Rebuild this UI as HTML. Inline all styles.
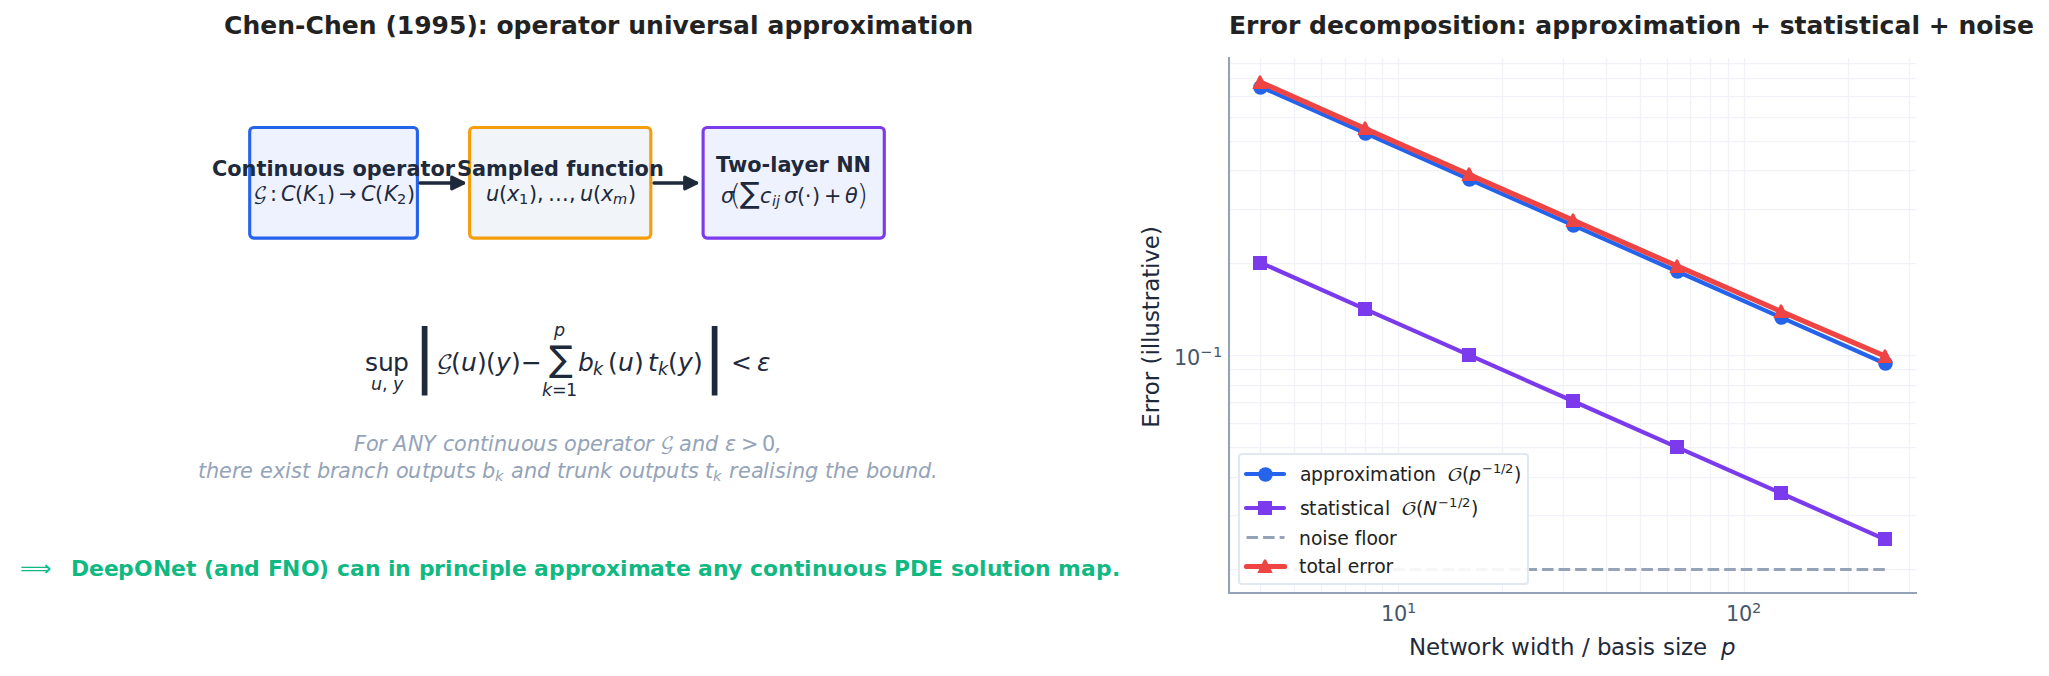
<!DOCTYPE html>
<html lang="en">
<head>
<meta charset="utf-8">
<title>Chen-Chen (1995): operator universal approximation</title>
<style>html,body{margin:0;padding:0;background:#fff}body{width:2049px;height:676px;overflow:hidden}</style>
</head>
<body>
<svg width="2049" height="676" viewBox="0 0 2049 676" style="display:block;font-family:'DejaVu Sans','Liberation Sans',sans-serif">
<defs><clipPath id="axclip"><rect x="1229.25" y="57.87" width="687" height="535.5"/></clipPath></defs>
<rect width="2049" height="676" fill="#fff"/>
<rect x="249.7" y="127.5" width="167.7" height="110.6" rx="4" fill="#eef2ff" stroke="#2563eb" stroke-width="3.12"/>
<rect x="469.6" y="127.5" width="181.2" height="110.6" rx="4" fill="#f1f5f9" stroke="#f59e0b" stroke-width="3.12"/>
<rect x="703.1" y="127.5" width="181.2" height="110.6" rx="4" fill="#eef2ff" stroke="#7c3aed" stroke-width="3.12"/>
<path d="M420 183H463.47" stroke="#1e293b" stroke-width="3.33" stroke-linecap="round" fill="none"/>
<path d="M451.81 177.17L463.47 183L451.81 188.83Z" fill="#1e293b" stroke="#1e293b" stroke-width="3.33" stroke-linejoin="round"/>
<path d="M654 183H696.47" stroke="#1e293b" stroke-width="3.33" stroke-linecap="round" fill="none"/>
<path d="M684.81 177.17L696.47 183L684.81 188.83Z" fill="#1e293b" stroke="#1e293b" stroke-width="3.33" stroke-linejoin="round"/>
<path d="M1260.5 593V58M1294.5 593V58M1321.5 593V58M1345.5 593V58M1365.5 593V58M1382.5 593V58M1398.5 593V58M1502.5 593V58M1563.5 593V58M1606.5 593V58M1640.5 593V58M1667.5 593V58M1690.5 593V58M1710.5 593V58M1728.5 593V58M1744.5 593V58M1848.5 593V58M1909.5 593V58M1229 569.5H1916M1229 515.5H1916M1229 477.5H1916M1229 447.5H1916M1229 423.5H1916M1229 402.5H1916M1229 385.5H1916M1229 369.5H1916M1229 355.5H1916M1229 263.5H1916M1229 209.5H1916M1229 170.5H1916M1229 141.5H1916M1229 117.5H1916M1229 96.5H1916M1229 78.5H1916M1229 63.5H1916" stroke="#e2e5f0" stroke-opacity="0.5" stroke-width="1.25" fill="none"/>
<g clip-path="url(#axclip)">
<path d="M1260.48 86.82L1364.57 132.94L1468.66 179.05L1572.75 225.16L1676.84 271.27L1780.93 317.38L1885.02 363.49" stroke="#2563eb" stroke-width="4.17" fill="none" stroke-linejoin="round" stroke-linecap="round"/>
<circle cx="1260.5" cy="87.5" r="7.28" fill="#2563eb"/>
<circle cx="1365.5" cy="133.5" r="7.28" fill="#2563eb"/>
<circle cx="1469.5" cy="179.5" r="7.28" fill="#2563eb"/>
<circle cx="1573.5" cy="225.5" r="7.28" fill="#2563eb"/>
<circle cx="1677.5" cy="271.5" r="7.28" fill="#2563eb"/>
<circle cx="1781.5" cy="317.5" r="7.28" fill="#2563eb"/>
<circle cx="1885.5" cy="363.5" r="7.28" fill="#2563eb"/>
<path d="M1260.48 262.68L1364.57 308.79L1468.66 354.9L1572.75 401.01L1676.84 447.12L1780.93 493.23L1885.02 539.34" stroke="#7c3aed" stroke-width="4.17" fill="none" stroke-linejoin="round" stroke-linecap="round"/>
<rect x="1253" y="256" width="14" height="14" fill="#7c3aed"/>
<rect x="1358" y="302" width="14" height="14" fill="#7c3aed"/>
<rect x="1462" y="348" width="14" height="14" fill="#7c3aed"/>
<rect x="1566" y="394" width="14" height="14" fill="#7c3aed"/>
<rect x="1670" y="440" width="14" height="14" fill="#7c3aed"/>
<rect x="1774" y="486" width="14" height="14" fill="#7c3aed"/>
<rect x="1878" y="532" width="14" height="14" fill="#7c3aed"/>
<path d="M1260.5 569.5L1365.5 569.5L1469.5 569.5L1573.5 569.5L1677.5 569.5L1781.5 569.5L1885.5 569.5" stroke="#94a3b8" stroke-width="3.12" fill="none" stroke-linejoin="round" stroke-dasharray="11.56 5"/>
<path d="M1260.48 82.21L1364.57 128.28L1468.66 174.3L1572.75 220.23L1676.84 265.99L1780.93 311.41L1885.02 356.15" stroke="#ef4444" stroke-width="5.21" fill="none" stroke-linejoin="round" stroke-linecap="round"/>
<path d="M1259.06 75.54H1260.94L1267.69 89.04H1252.31Z" fill="#ef4444"/>
<path d="M1364.06 121.54H1365.94L1372.69 135.04H1357.31Z" fill="#ef4444"/>
<path d="M1468.06 167.54H1469.94L1476.69 181.04H1461.31Z" fill="#ef4444"/>
<path d="M1572.06 213.54H1573.94L1580.69 227.04H1565.31Z" fill="#ef4444"/>
<path d="M1676.06 259.54H1677.94L1684.69 273.04H1669.31Z" fill="#ef4444"/>
<path d="M1780.06 304.54H1781.94L1788.69 318.04H1773.31Z" fill="#ef4444"/>
<path d="M1884.06 349.54H1885.94L1892.69 363.04H1877.31Z" fill="#ef4444"/>
</g>
<path d="M1229 58V593H1916" stroke="#94a3b8" stroke-width="2.08" fill="none" stroke-linecap="square"/>
<rect x="1239" y="454" width="289" height="130" rx="3" fill="#fff" fill-opacity="0.9" stroke="#e2e8f0" stroke-width="2.08"/>
<path d="M1246 474L1265 474L1284 474" stroke="#2563eb" stroke-width="4.17" fill="none" stroke-linejoin="round" stroke-linecap="round"/>
<circle cx="1265.5" cy="474.5" r="7.28" fill="#2563eb"/>
<path d="M1246 508L1265 508L1284 508" stroke="#7c3aed" stroke-width="4.17" fill="none" stroke-linejoin="round" stroke-linecap="round"/>
<rect x="1258" y="501" width="14" height="14" fill="#7c3aed"/>
<path d="M1246.5 537.5L1265.5 537.5L1284.5 537.5" stroke="#94a3b8" stroke-width="3.12" fill="none" stroke-linejoin="round" stroke-dasharray="11.56 5"/>
<path d="M1246.5 566.5L1265.5 566.5L1284.5 566.5" stroke="#ef4444" stroke-width="5.21" fill="none" stroke-linejoin="round" stroke-linecap="round"/>
<path d="M1264.06 559.54H1265.94L1272.69 573.04H1257.31Z" fill="#ef4444"/>
<text x="224 242.38 260.25 277.25 295.12 305.5 323.88 341.75 358.75 376.62 385.38 396.75 414.25 431.62 449 466.38 477.75 487.62 496.38 513.62 531.5 548.5 560.88 577.88 589.88 607.12 619.5 628.25 646.12 664 672.62 688.88 705.88 718.25 733 750 758.62 767.38 784.38 802.25 820.12 832.5 849.75 865.88 874.5 900.75 917.75 929.75 938.38 955.62" y="34" fill="#222222" style="font-size:25px;font-weight:bold;white-space:pre" xml:space="preserve">Chen-Chen (1995): operator universal approximation</text>
<text x="1229 1246 1258.38 1270.75 1288 1300.38 1309.12 1327 1344 1358.88 1376.12 1402.38 1420.25 1437.5 1452.25 1460.88 1472.88 1481.5 1498.75 1516.62 1526.5 1535.25 1552.25 1570.12 1588 1600.38 1617.62 1633.75 1642.38 1668.62 1685.62 1697.62 1706.25 1723.5 1741.38 1750.12 1771 1779.75 1794.5 1806.5 1823.5 1835.5 1844.12 1858.88 1870.88 1879.5 1894.38 1911.38 1920 1928.75 1949.62 1958.38 1976.25 1993.5 2002.12 2016.88" y="34" fill="#222222" style="font-size:25px;font-weight:bold;white-space:pre" xml:space="preserve">Error decomposition: approximation + statistical + noise</text>
<text x="212 227.25 241.62 256.5 266.5 273.62 288.5 303.38 317.75 332.62 345.12 352.38 366.75 381.75 396 406.38 420.38 430.38 444.75" y="176" fill="#1e293b" style="font-size:20.83px;font-weight:bold;white-space:pre" xml:space="preserve">Continuous operator</text>
<text transform="translate(253.32 199.4) scale(0.9060 0.7809)" style="font-family:'DejaVu Math TeX Gyre','STIX Two Math','DejaVu Serif',serif;font-size:20.83px" fill="#1e293b">𝒢</text>
<text fill="#1e293b" xml:space="preserve" style="white-space:pre"><tspan x="270" y="201" style="font-size:20.83px">:</tspan><tspan x="281" y="201" style="font-style:italic;font-size:20.83px">C</tspan><tspan x="295" y="201" style="font-size:20.83px">(</tspan><tspan x="303" y="201" style="font-style:italic;font-size:20.83px">K</tspan><tspan x="317" y="204" style="font-size:14.58px">1</tspan><tspan x="327 339" y="201" style="font-size:20.83px">)→</tspan><tspan x="361" y="201" style="font-style:italic;font-size:20.83px">C</tspan><tspan x="375" y="201" style="font-size:20.83px">(</tspan><tspan x="384" y="201" style="font-style:italic;font-size:20.83px">K</tspan><tspan x="397" y="204" style="font-size:14.58px">2</tspan><tspan x="407" y="201" style="font-size:20.83px">)</tspan></text>
<text x="457 472 486 507.75 522.75 529.88 544.12 559 566.25 575.38 590.25 605.12 617.5 627.5 634.62 649" y="176" fill="#1e293b" style="font-size:20.83px;font-weight:bold;white-space:pre" xml:space="preserve">Sampled function</text>
<text fill="#1e293b" xml:space="preserve" style="white-space:pre"><tspan x="486" y="201" style="font-style:italic;font-size:20.83px">u</tspan><tspan x="499" y="201" style="font-size:20.83px">(</tspan><tspan x="507" y="201" style="font-style:italic;font-size:20.83px">x</tspan><tspan x="519" y="204" style="font-size:14.58px">1</tspan><tspan x="529 537 548 569" y="201" style="font-size:20.83px">),…,</tspan><tspan x="580" y="201" style="font-style:italic;font-size:20.83px">u</tspan><tspan x="593" y="201" style="font-size:20.83px">(</tspan><tspan x="601" y="201" style="font-style:italic;font-size:20.83px">x</tspan><tspan x="613" y="204" style="font-style:italic;font-size:14.58px">m</tspan><tspan x="628" y="201" style="font-size:20.83px">)</tspan></text>
<text x="716 728 747.25 761.62 770.25 777.38 790.75 804.38 818.62 829 836.25 853.62" y="172" fill="#1e293b" style="font-size:20.83px;font-weight:bold;white-space:pre" xml:space="preserve">Two-layer NN</text>
<text fill="#1e293b" xml:space="preserve" style="white-space:pre"><tspan x="721" y="203" style="font-style:italic;font-size:20.83px">σ</tspan></text>
<text transform="translate(729.78 204.62) scale(1.3672 1.3795)" style="font-family:'DejaVu Sans Light','DejaVu Sans',sans-serif;font-weight:200;font-size:21.14px" fill="#1e293b">(</text>
<text fill="#1e293b" xml:space="preserve" style="white-space:pre"><tspan x="740" y="203" style="font-size:29.47px">∑</tspan><tspan x="760" y="203" style="font-style:italic;font-size:20.83px">c</tspan><tspan x="772 776" y="206" style="font-style:italic;font-size:14.58px">ij</tspan><tspan x="784" y="203" style="font-style:italic;font-size:20.83px">σ</tspan><tspan x="797 805 812 824" y="203" style="font-size:20.83px">(⋅)+</tspan><tspan x="845" y="203" style="font-style:italic;font-size:20.83px">θ</tspan></text>
<text transform="translate(856.66 204.62) scale(1.3672 1.3795)" style="font-family:'DejaVu Sans Light','DejaVu Sans',sans-serif;font-weight:200;font-size:21.14px" fill="#1e293b">)</text>
<text fill="#1e293b" xml:space="preserve" style="white-space:pre"><tspan x="365 378 393" y="371" style="font-size:25px">sup</tspan><tspan x="371" y="390" style="font-style:italic;font-size:17.5px">u</tspan><tspan x="382" y="390" style="font-size:17.5px">,</tspan><tspan x="393" y="390" style="font-style:italic;font-size:17.5px">y</tspan><tspan x="413" y="379" style="font-size:68.97px">|</tspan></text>
<text transform="translate(436.19 369.08) scale(0.9060 0.7809)" style="font-family:'DejaVu Math TeX Gyre','STIX Two Math','DejaVu Serif',serif;font-size:25px" fill="#1e293b">𝒢</text>
<text fill="#1e293b" xml:space="preserve" style="white-space:pre"><tspan x="451" y="371" style="font-size:25px">(</tspan><tspan x="461" y="371" style="font-style:italic;font-size:25px">u</tspan><tspan x="477 486" y="371" style="font-size:25px">)(</tspan><tspan x="496" y="371" style="font-style:italic;font-size:25px">y</tspan><tspan x="511 521" y="371" style="font-size:25px">)−</tspan><tspan x="554" y="336" style="font-style:italic;font-size:17.5px">p</tspan><tspan x="549" y="371" style="font-size:35.36px">∑</tspan><tspan x="542" y="396" style="font-style:italic;font-size:17.5px">k</tspan><tspan x="552 566" y="396" style="font-size:17.5px">=1</tspan><tspan x="578" y="371" style="font-style:italic;font-size:25px">b</tspan><tspan x="593" y="375" style="font-style:italic;font-size:17.5px">k</tspan><tspan x="608" y="371" style="font-size:25px">(</tspan><tspan x="618" y="371" style="font-style:italic;font-size:25px">u</tspan><tspan x="634" y="371" style="font-size:25px">)</tspan><tspan x="648" y="371" style="font-style:italic;font-size:25px">t</tspan><tspan x="658" y="375" style="font-style:italic;font-size:17.5px">k</tspan><tspan x="668" y="371" style="font-size:25px">(</tspan><tspan x="678" y="371" style="font-style:italic;font-size:25px">y</tspan><tspan x="693" y="371" style="font-size:25px">)</tspan><tspan x="703" y="379" style="font-size:68.97px">|</tspan><tspan x="731" y="371" style="font-size:25px">&lt;</tspan><tspan x="757" y="371" style="font-style:italic;font-size:25px">ε</tspan></text>
<text fill="#94a3b8" xml:space="preserve" style="white-space:pre"><tspan x="354 366 378 387 393 408 423 436 443 454 467 480 488 494 507 521 533 547 558 564 577 590 603 612 624 633 645 654" y="451" style="font-style:italic;font-size:20.83px">For ANY continuous operator </tspan></text>
<text transform="translate(660.32 449.4) scale(0.9060 0.7809)" style="font-family:'DejaVu Math TeX Gyre','STIX Two Math','DejaVu Serif',serif;font-size:20.83px" fill="#94a3b8">𝒢</text>
<text fill="#94a3b8" xml:space="preserve" style="white-space:pre"><tspan x="673 679 692 705 719 725" y="451" style="font-style:italic;font-size:20.83px"> and ε</tspan><tspan x="741 762" y="451" style="font-size:20.83px">&gt;0</tspan><tspan x="775" y="451" style="font-style:italic;font-size:20.83px">,</tspan></text>
<text fill="#94a3b8" xml:space="preserve" style="white-space:pre"><tspan x="198 206 219 232 240 253 260 273 285 291 302 310 317 330 338 351 364 376 389 396 408 422 430 443 456 465 475 482" y="478" style="font-style:italic;font-size:20.83px">there exist branch outputs b</tspan><tspan x="495" y="481" style="font-style:italic;font-size:14.58px">k</tspan><tspan x="504 511 524 537 550 557 565 574 587 600 612 619 632 645 653 666 680 688 699 705" y="478" style="font-style:italic;font-size:20.83px"> and trunk outputs t</tspan><tspan x="713" y="481" style="font-style:italic;font-size:14.58px">k</tspan><tspan x="722 729 738 751 763 769 775 786 792 805 818 825 833 846 859 866 879 892 905 918 931" y="478" style="font-style:italic;font-size:20.83px"> realising the bound.</tspan></text>
<text fill="#10b981" xml:space="preserve" style="white-space:pre"><tspan x="20" y="576" style="font-size:21.88px">⟹</tspan><tspan x="55 63 71 89 104 118 134 153 171 186 196 204 214 229 244 260 268 282 301 319 329 337 350 365 380 388 395 411 419 434 445 453 468 481 489 504 512 527 534 549 565 580 591 606 620 628 650 665 676 691 698 713 728 743 750 763 778 794 804 812 827 843 858 874 887 894 910 928 943 951 964 979 987 1002 1013 1020 1035 1051 1058 1081 1096 1112" y="576" style="font-weight:bold;font-size:21.88px">  DeepONet (and FNO) can in principle approximate any continuous PDE solution map.</tspan></text>
<text fill="#475569" xml:space="preserve" style="white-space:pre"><tspan x="1381 1394" y="621" style="font-size:20.83px">10</tspan><tspan x="1407" y="613" style="font-size:14.58px">1</tspan></text>
<text fill="#475569" xml:space="preserve" style="white-space:pre"><tspan x="1726 1739" y="621" style="font-size:20.83px">10</tspan><tspan x="1752" y="613" style="font-size:14.58px">2</tspan></text>
<text fill="#475569" xml:space="preserve" style="white-space:pre"><tspan x="1174 1187" y="365" style="font-size:20.83px">10</tspan><tspan x="1200 1213" y="357" style="font-size:14.58px">−1</tspan></text>
<text fill="#1e293b" xml:space="preserve" style="white-space:pre"><tspan x="1409 1426 1440 1449 1467 1481 1491 1504 1511 1530 1536 1551 1560 1574 1582 1589 1597 1611 1625 1637 1643 1655 1663 1675 1681 1693 1707 1714" y="655" style="font-size:22.92px">Network width / basis size  </tspan><tspan x="1721" y="655" style="font-style:italic;font-size:22.92px">p</tspan></text>
<text transform="translate(1158.5 327) rotate(-90)" x="-100.81 -86.31 -77.19 -68.19 -54.19 -44.69 -37.44 -28.44 -22.19 -15.94 -9.69 4.94 16.81 25.69 35.19 49.19 58.06 64.31 77.81 91.94" y="0" fill="#1e293b" style="font-size:22.92px;white-space:pre" xml:space="preserve">Error (illustrative)</text>
<text fill="#222222" xml:space="preserve" style="white-space:pre"><tspan x="1300 1311 1323 1335 1343 1354 1365 1370 1389 1400 1407 1413 1424 1436 1442" y="481" style="font-size:18.75px">approximation  </tspan></text>
<text transform="translate(1447.06 480.66) scale(1.1003 0.8519)" style="font-family:'DejaVu Math TeX Gyre','STIX Two Math','DejaVu Serif',serif;font-size:18.75px" fill="#222222">𝒪</text>
<text fill="#222222" xml:space="preserve" style="white-space:pre"><tspan x="1462" y="481" style="font-size:18.75px">(</tspan><tspan x="1469" y="481" style="font-style:italic;font-size:18.75px">p</tspan><tspan x="1482 1493 1501 1505" y="473" style="font-size:13.12px">−1/2</tspan><tspan x="1514" y="481" style="font-size:18.75px">)</tspan></text>
<text fill="#222222" xml:space="preserve" style="white-space:pre"><tspan x="1300 1309 1317 1328 1335 1341 1350 1358 1363 1373 1385 1390 1396" y="515" style="font-size:18.75px">statistical  </tspan></text>
<text transform="translate(1401.06 514.66) scale(1.1003 0.8519)" style="font-family:'DejaVu Math TeX Gyre','STIX Two Math','DejaVu Serif',serif;font-size:18.75px" fill="#222222">𝒪</text>
<text fill="#222222" xml:space="preserve" style="white-space:pre"><tspan x="1416" y="515" style="font-size:18.75px">(</tspan><tspan x="1423" y="515" style="font-style:italic;font-size:18.75px">N</tspan><tspan x="1438 1449 1458 1462" y="507" style="font-size:13.12px">−1/2</tspan><tspan x="1471" y="515" style="font-size:18.75px">)</tspan></text>
<text x="1299 1310.88 1322.25 1327.38 1337.25 1348.75 1354.75 1361.25 1366.38 1377.75 1389.12" y="545" fill="#222222" style="font-size:18.75px;white-space:pre" xml:space="preserve">noise floor</text>
<text x="1299 1306.38 1317.75 1325.12 1336.62 1341.75 1347.75 1359.25 1366.75 1374.25 1385.62" y="573" fill="#222222" style="font-size:18.75px;white-space:pre" xml:space="preserve">total error</text>
</svg>
</body>
</html>
